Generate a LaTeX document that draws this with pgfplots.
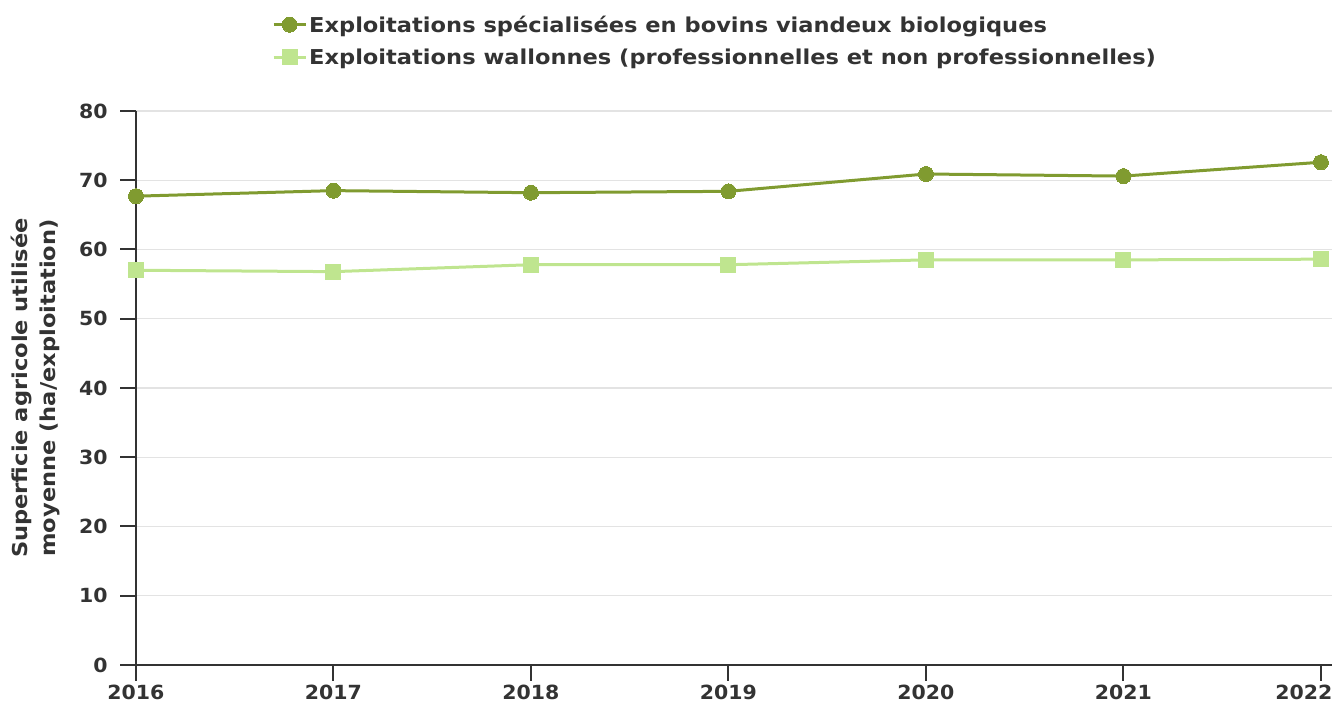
\documentclass[border=0pt]{standalone}
\usepackage{pgfplots}
\pgfplotsset{compat=1.18}
\usepackage{fontspec}
\setmainfont{DejaVu Sans}[FakeStretch=1.05]
\newfontfamily\legfont{DejaVu Sans}[FakeStretch=1.1]
\definecolor{dk}{HTML}{809B30}
\definecolor{lt}{HTML}{BFE58F}
\definecolor{txt}{HTML}{333333}
\definecolor{gridc}{HTML}{E3E3E3}
\begin{document}
\begin{tikzpicture}
\begin{axis}[
  name=ax,
  scale only axis, width=1196pt, height=554pt,
  xmin=2016, xmax=2022.056, ymin=0, ymax=80,
  axis lines=left, axis line style={-, draw=txt, line width=2pt},
  xtick={2016,2017,2018,2019,2020,2021,2022},
  xticklabels={2016,2017,2018,2019,2020,2021,\hspace*{-34pt}2022},
  ytick={0,10,20,30,40,50,60,70,80},
  yticklabels={0,10,20,30,40,50,60,70,80},
  tick align=outside, major tick length=16pt,
  tick style={draw=txt, line width=2pt},
  ymajorgrids, grid style={draw=gridc, line width=1.2pt},
  ticklabel style={font=\bfseries\fontsize{19.5}{23}\selectfont, text=txt},
  xticklabel style={yshift=-1pt},
  yticklabel style={xshift=-9pt},
  ylabel={Superficie agricole utilisée\\moyenne (ha/exploitation)},
  ylabel style={at={(axis description cs:-0.0836,0.5)}, anchor=center, align=center,
    font=\legfont\bfseries\fontsize{20.5}{28}\selectfont, text=txt},
  legend style={at={(axis description cs:0.1137,1.176)}, anchor=north west, draw=none, fill=none,
    font=\legfont\bfseries\fontsize{20.5}{24}\selectfont, text=txt, row sep=11pt, inner sep=0pt},
  legend cell align=left,
  legend image code/.code={\draw[mark repeat=2,mark phase=2] plot coordinates {(0pt,0pt) (16pt,0pt) (32pt,0pt)};},
  clip=false,
]
\addplot[dk, line width=3pt, mark=*, mark size=7.5pt, mark options={solid, fill=dk, draw=dk, line width=0pt}]
  coordinates {(2016,67.7) (2017,68.5) (2018,68.2) (2019,68.4) (2020,70.9) (2021,70.6) (2022,72.6)};
\addlegendentry{Exploitations spécialisées en bovins viandeux biologiques}
\addplot[lt, line width=3pt, mark=square*, mark size=7.5pt, mark options={solid, fill=lt, draw=lt, line width=0pt}]
  coordinates {(2016,57.0) (2017,56.8) (2018,57.8) (2019,57.8) (2020,58.5) (2021,58.5) (2022,58.6)};
\addlegendentry{Exploitations wallonnes (professionnelles et non professionnelles)}
\end{axis}
\pgfresetboundingbox
\path ([shift={(-136pt,-38pt)}]ax.south west) rectangle ([shift={(2pt,111pt)}]ax.north east);
\end{tikzpicture}
\end{document}
